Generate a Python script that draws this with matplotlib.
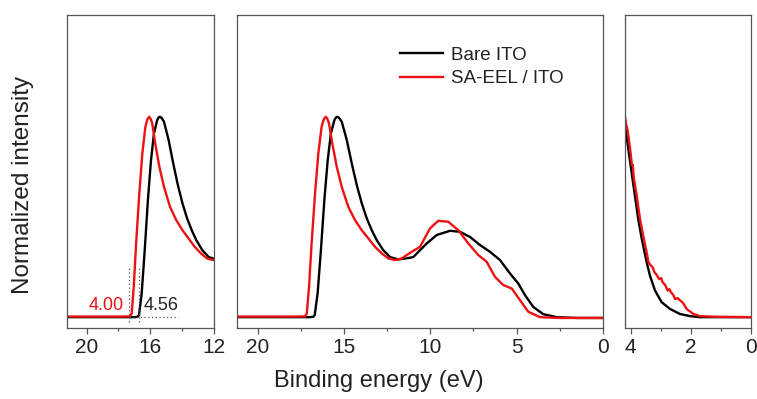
import matplotlib
matplotlib.use('Agg')
import matplotlib.pyplot as plt
from matplotlib.ticker import MultipleLocator

plt.rcParams['font.family'] = ['Liberation Sans', 'DejaVu Sans']

# spectra (binding energy in eV, normalized intensity)
bare_x = [21.3, 18.0, 17.0, 16.79, 16.71, 16.54, 16.35, 16.15, 15.96, 15.77, 15.57, 15.48,
          15.40, 15.30, 15.14, 14.85, 14.56, 14.27, 13.98, 13.69, 13.40, 13.11, 12.73,
          12.34, 11.86, 11.28, 10.99, 10.21, 9.63, 8.86, 8.28, 7.70, 7.12, 6.54, 5.96,
          5.38, 4.90, 4.51, 4.03, 3.45, 2.67, 1.5, 0.0]
bare_y = [0.0, 0.0, 0.0, 0.002, 0.01, 0.12, 0.335, 0.585, 0.78, 0.917, 0.983, 0.996,
          1.0, 0.995, 0.975, 0.884, 0.767, 0.659, 0.568, 0.493, 0.434, 0.384, 0.334,
          0.30, 0.288, 0.295, 0.30, 0.368, 0.41, 0.431, 0.426, 0.40, 0.36, 0.326, 0.285,
          0.218, 0.168, 0.11, 0.051, 0.015, 0.0, -0.004, -0.004]

eel_x = [21.3, 18.0, 17.27, 17.17, 17.04, 16.89, 16.69, 16.50, 16.31, 16.18, 16.07, 15.98,
         15.88, 15.69, 15.43, 15.14, 14.76, 14.37, 13.98, 13.60, 13.21, 12.82, 12.44,
         12.05, 11.66, 11.37, 11.08, 10.6, 10.02, 9.54, 8.96, 8.38, 7.80, 7.22, 6.73,
         6.25, 5.77, 5.28, 4.80, 4.32, 3.64, 2.5, 0.0]
eel_y = [0.003, 0.003, 0.004, 0.018, 0.151, 0.368, 0.618, 0.817, 0.95, 0.988, 1.0, 0.99,
         0.967, 0.867, 0.75, 0.65, 0.55, 0.484, 0.434, 0.393, 0.351, 0.318, 0.293,
         0.285, 0.293, 0.31, 0.326, 0.351, 0.443, 0.481, 0.476, 0.434, 0.368, 0.31, 0.276,
         0.201, 0.16, 0.143, 0.085, 0.027, 0.0, -0.004, -0.004]

# magnified valence-band edge (right panel)
vb_bare_x = [4.16, 4.08, 3.97, 3.86, 3.75, 3.63, 3.49, 3.36, 3.19, 2.97, 2.69, 2.36,
             2.02, 1.7, 1.0, 0.0]
vb_bare_y = [0.93, 0.84, 0.724, 0.607, 0.49, 0.39, 0.29, 0.208, 0.133, 0.075, 0.041,
             0.016, 0.005, 0.0, 0.0, 0.0]
vb_eel_x = [4.19, 4.15, 4.11, 4.02, 3.96, 3.93, 3.90, 3.80, 3.69, 3.56, 3.45, 3.41, 3.34,
            3.27, 3.21, 3.13, 3.05, 2.98, 2.94, 2.85, 2.77, 2.71, 2.66, 2.58, 2.52,
            2.44, 2.36, 2.25, 2.13, 1.91, 1.69, 1.2, 0.0]
vb_eel_y = [1.0, 0.96, 0.94, 0.84, 0.76, 0.76, 0.70, 0.607, 0.49, 0.39, 0.31, 0.275, 0.26,
            0.25, 0.225, 0.21, 0.19, 0.195, 0.175, 0.16, 0.133, 0.14, 0.125, 0.11, 0.09,
            0.095, 0.085, 0.07, 0.04, 0.016, 0.005, 0.002, 0.0]

cutoff_eel = 17.32
cutoff_bare = 16.69
wf_labels = ['4.00', '4.56']

red = '#ee1111'
spine_c = '#555555'
text_c = '#222222'

fig = plt.figure(figsize=(7.57, 3.99), dpi=100)
ax1 = fig.add_axes([0.0881, 0.177, 0.1946, 0.7855])
ax2 = fig.add_axes([0.3135, 0.177, 0.4827, 0.7855])
ax3 = fig.add_axes([0.8256, 0.177, 0.1661, 0.7855])

for ax in (ax1, ax2):
    ax.plot(bare_x, bare_y, color='black', lw=1.7, label='Bare ITO')
    ax.plot(eel_x, eel_y, color=red, lw=1.7, label='SA-EEL / ITO')
ax3.plot(vb_bare_x, vb_bare_y, color='black', lw=1.7)
ax3.plot(vb_eel_x, vb_eel_y, color=red, lw=1.7)

ax1.set_xlim(21.25, 12)
ax2.set_xlim(21.2, 0)
ax3.set_xlim(4.19, 0)
ax1.xaxis.set_major_locator(MultipleLocator(4))
ax1.xaxis.set_minor_locator(MultipleLocator(2))
ax2.xaxis.set_major_locator(MultipleLocator(5))
ax2.xaxis.set_minor_locator(MultipleLocator(2.5))
ax3.xaxis.set_major_locator(MultipleLocator(2))
ax3.xaxis.set_minor_locator(MultipleLocator(1))

for ax in (ax1, ax2, ax3):
    ax.set_ylim(-0.056, 1.508)
    ax.set_yticks([])
    for s in ax.spines.values():
        s.set_color(spine_c)
        s.set_linewidth(0.9)
    ax.tick_params(axis='x', which='major', direction='out', length=4, width=0.9,
                   color=spine_c, labelsize=15, labelcolor=text_c, pad=3)
    ax.tick_params(axis='x', which='minor', direction='out', length=2.5, width=0.9,
                   color=spine_c)

# secondary-electron cutoff guides
ax1.plot([cutoff_eel, cutoff_eel], [-0.023, 0.245], ls=(0, (1, 2)), color='#555555', lw=0.9)
ax1.plot([cutoff_bare, cutoff_bare], [-0.023, 0.245], ls=(0, (1, 2)), color='#555555', lw=0.9)
ax1.plot([cutoff_eel, 14.23], [0.0, 0.0], ls=(0, (1, 2)), color='#555555', lw=0.9)
ax1.text(17.67, 0.06, wf_labels[0], color=red, fontsize=13, ha='right', va='center')
ax1.text(16.42, 0.06, wf_labels[1], color=text_c, fontsize=13, ha='left', va='center')

ax2.legend(loc='upper left', bbox_to_anchor=(0.445, 0.899), frameon=False, fontsize=13.5,
           handlelength=2.3, handletextpad=0.4, labelspacing=0.35, borderpad=0,
           borderaxespad=0, labelcolor=text_c)

fig.text(0.5, 0.045, 'Binding energy (eV)', ha='center', va='center', fontsize=17,
         color=text_c)
fig.text(0.03, 0.536, 'Normalized intensity', ha='center', va='center', fontsize=17.5,
         rotation=90, color=text_c)

fig.savefig('out.png', dpi=100)
